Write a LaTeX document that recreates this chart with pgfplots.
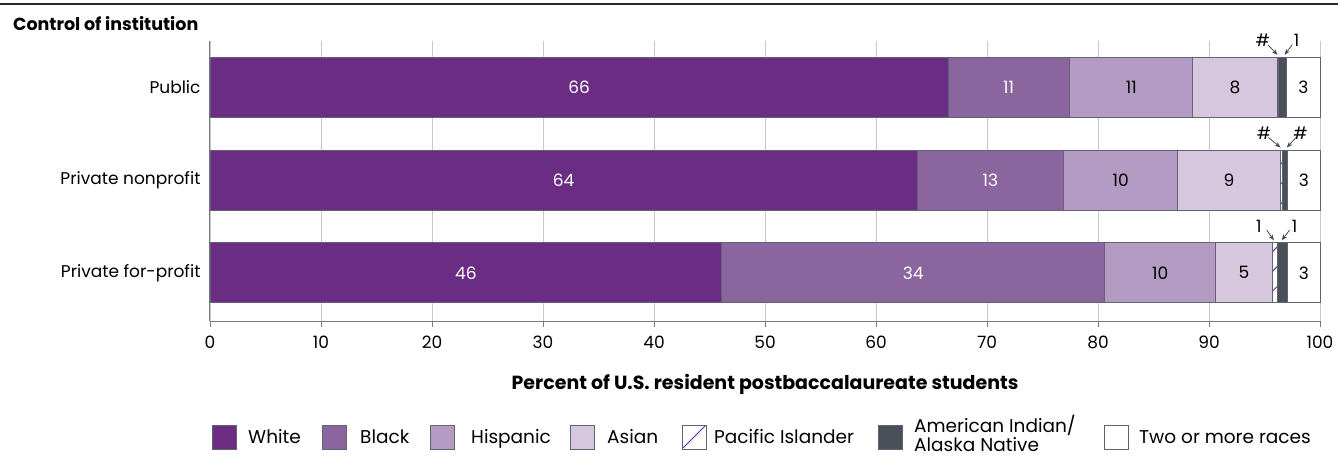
\documentclass[border=0pt]{standalone}
\usepackage{fontspec}
\setmainfont{Poppins}
\usepackage{pgfplots}
\pgfplotsset{compat=1.18}
\usetikzlibrary{patterns.meta, arrows.meta}

\definecolor{cWhite}{RGB}{107,45,131}
\definecolor{cBlack}{RGB}{139,101,158}
\definecolor{cHisp}{RGB}{180,155,195}
\definecolor{cAsian}{RGB}{214,199,222}
\definecolor{cAIAN}{RGB}{74,79,90}
\definecolor{bordergray}{RGB}{96,100,112}
\definecolor{axisgray}{RGB}{120,122,130}
\definecolor{gridgray}{RGB}{200,200,204}
\definecolor{rulec}{RGB}{40,40,40}
\definecolor{annot}{RGB}{70,74,86}

\newcommand{\fs}{\fontsize{17}{20}\selectfont}
\newcommand{\fl}{\fontsize{18.5}{21}\selectfont}

\begin{document}
\begin{tikzpicture}[font=\fs]
\useasboundingbox (-210pt,-134pt) rectangle (1128pt,321pt);
\draw[line width=2.5pt, color=rulec] (-210pt,317pt) -- (1128pt,317pt);
\node[anchor=base west, inner sep=0pt, font=\fontsize{17.5}{20}\selectfont\bfseries] at (-197pt,290pt) {Control of institution};
\begin{axis}[
  scale only axis, width=1110pt, height=280pt,
  xbar stacked, bar width=60pt,
  xmin=0, xmax=100, ymin=0.48, ymax=3.5,
  axis lines*=left,
  axis line style={draw=axisgray, line width=1pt},
  xtick={0,10,...,100},
  ytick={1,2,3},
  yticklabels={Private for-profit, Private nonprofit, Public},
  xmajorgrids, grid style={draw=gridgray, line width=0.8pt},
  tick align=outside, major tick length=6pt,
  xtick style={draw=axisgray, line width=0.8pt},
  ytick style={draw=none},
  /pgf/number format/assume math mode=true,
  ticklabel style={font=\fs},
  xticklabel style={anchor=base, yshift=-21pt},
  yticklabel style={anchor=east, xshift=0pt},
  xlabel={Percent of U.S. resident postbaccalaureate students},
  xlabel style={at={(axis description cs:0.5,0)}, anchor=base, yshift=-68pt, font=\fontsize{19}{22}\selectfont\bfseries},
  every axis plot/.append style={draw=bordergray, line width=0.9pt},
  clip=false,
]
% White, Black, Hispanic, Asian, Pacific Islander, AIAN, Two or more
\addplot[fill=cWhite] coordinates {(66.5,3) (63.7,2) (46.1,1)};
\addplot[fill=cBlack] coordinates {(10.9,3) (13.2,2) (34.5,1)};
\addplot[fill=cHisp] coordinates {(11.1,3) (10.3,2) (10.0,1)};
\addplot[fill=cAsian] coordinates {(7.7,3) (9.2,2) (5.1,1)};
\addplot[fill=white, postaction={pattern={Lines[angle=45,distance=14pt,line width=1pt]}, pattern color=cWhite}] coordinates {(0.1,3) (0.2,2) (0.5,1)};
\addplot[fill=cAIAN] coordinates {(0.65,3) (0.5,2) (0.9,1)};
\addplot[fill=white] coordinates {(3.05,3) (2.9,2) (2.9,1)};

% value label positions
\coordinate (a1) at (axis cs:33.25,3);
\coordinate (a2) at (axis cs:71.95,3);
\coordinate (a3) at (axis cs:83.0,3);
\coordinate (a4) at (axis cs:92.35,3);
\coordinate (a5) at (axis cs:98.5,3);
\coordinate (b1) at (axis cs:31.85,2);
\coordinate (b2) at (axis cs:70.3,2);
\coordinate (b3) at (axis cs:82.05,2);
\coordinate (b4) at (axis cs:91.8,2);
\coordinate (b5) at (axis cs:98.55,2);
\coordinate (c1) at (axis cs:23.05,1);
\coordinate (c2) at (axis cs:63.35,1);
\coordinate (c3) at (axis cs:85.6,1);
\coordinate (c4) at (axis cs:93.15,1);
\coordinate (c5) at (axis cs:98.55,1);

% annotations for small segments
\tikzset{ar/.style={draw=annot, line width=0.8pt, -{Stealth[length=6pt,width=4.5pt]}}}
\node[anchor=base, inner sep=0pt] at (axis cs:94.85,3.438) {\#};
\node[anchor=base, inner sep=0pt] at (axis cs:97.9,3.438) {1};
\draw[ar] (axis cs:95.3,3.46) -- (axis cs:96.17,3.35);
\draw[ar] (axis cs:97.5,3.46) -- (axis cs:96.8,3.35);
\node[anchor=base, inner sep=0pt] at (axis cs:94.95,2.438) {\#};
\node[anchor=base, inner sep=0pt] at (axis cs:98.25,2.438) {\#};
\draw[ar] (axis cs:95.35,2.46) -- (axis cs:96.45,2.35);
\draw[ar] (axis cs:97.85,2.46) -- (axis cs:97.0,2.35);
\node[anchor=base, inner sep=0pt] at (axis cs:94.5,1.438) {1};
\node[anchor=base, inner sep=0pt] at (axis cs:97.7,1.438) {1};
\draw[ar] (axis cs:95.2,1.46) -- (axis cs:95.85,1.35);
\draw[ar] (axis cs:97.25,1.46) -- (axis cs:96.55,1.35);
\end{axis}

% value labels (drawn on top of the bars)
\node[text=white] at (a1) {66};
\node[text=white] at (a2) {11};
\node at (a3) {11};
\node at (a4) {8};
\node at (a5) {3};
\node[text=white] at (b1) {64};
\node[text=white] at (b2) {13};
\node at (b3) {10};
\node at (b4) {9};
\node at (b5) {3};
\node[text=white] at (c1) {46};
\node[text=white] at (c2) {34};
\node at (c3) {10};
\node at (c4) {5};
\node at (c5) {3};

% legend
\tikzset{lb/.style={draw=bordergray, line width=0.9pt},
         lt/.style={anchor=base west, inner sep=0pt, font=\fl}}
\draw[lb, fill=cWhite] (2pt,-128pt) rectangle ++(24pt,24pt);
\node[lt] at (38pt,-122.5pt) {White};
\draw[lb, fill=cBlack] (112pt,-128pt) rectangle ++(24pt,24pt);
\node[lt] at (150pt,-122.5pt) {Black};
\draw[lb, fill=cHisp] (220pt,-128pt) rectangle ++(24pt,24pt);
\node[lt] at (261pt,-122.5pt) {Hispanic};
\draw[lb, fill=cAsian] (360pt,-128pt) rectangle ++(24pt,24pt);
\node[lt] at (397pt,-122.5pt) {Asian};
\draw[lb, fill=white] (472pt,-128pt) rectangle ++(24pt,24pt);
\draw[cWhite, line width=0.8pt] (473pt,-127pt) -- (495pt,-105pt);
\node[lt] at (504pt,-122.5pt) {Pacific Islander};
\draw[lb, fill=cAIAN] (668pt,-128pt) rectangle ++(24pt,24pt);
\node[anchor=base west, inner sep=0pt, font=\fl] at (704pt,-111pt) {American Indian/};
\node[anchor=base west, inner sep=0pt, font=\fl] at (704pt,-130pt) {Alaska Native};
\draw[lb, fill=white] (894pt,-128pt) rectangle ++(24pt,24pt);
\node[lt] at (929pt,-122.5pt) {Two or more races};
\end{tikzpicture}
\end{document}
